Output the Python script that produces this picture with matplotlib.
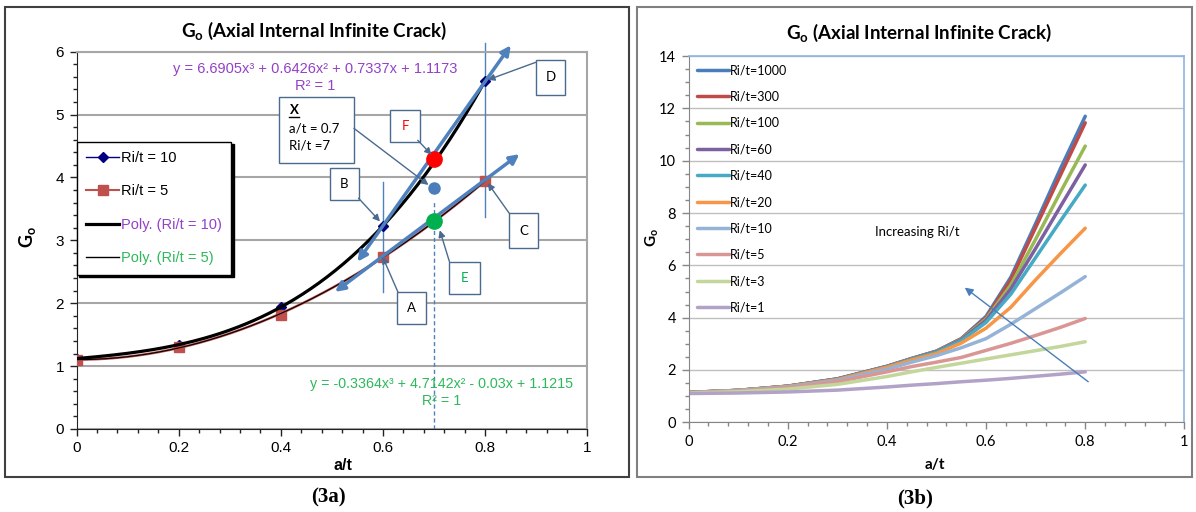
import numpy as np
import matplotlib
matplotlib.use('Agg')
import matplotlib.pyplot as plt
from matplotlib.patches import Rectangle
from matplotlib.lines import Line2D
from matplotlib.ticker import MultipleLocator

plt.rcParams['mathtext.fontset'] = 'custom'
plt.rcParams['mathtext.rm'] = 'Lato'
plt.rcParams['mathtext.bf'] = 'Lato:bold'
plt.rcParams['mathtext.it'] = 'Lato:italic'

# ---------------- data (3a) ----------------
at_a = [0.0, 0.2, 0.4, 0.6, 0.8]
go_ri10 = [1.12, 1.34, 1.94, 3.23, 5.54]
go_ri5 = [1.10, 1.30, 1.82, 2.74, 3.94]
# points read at a/t = 0.7
pt_at = 0.7
pt_F = 4.29    # Ri/t = 10
pt_X = 3.83    # Ri/t = 7
pt_E = 3.31    # Ri/t = 5
eq_ri10 = 'y = 6.6905x³ + 0.6426x² + 0.7337x + 1.1173'
eq_ri5 = 'y = -0.3364x³ + 4.7142x² - 0.03x + 1.1215'

# ---------------- data (3b) ----------------
at_b = [0, 0.1, 0.2, 0.3, 0.4, 0.45, 0.5, 0.55, 0.6, 0.65, 0.7, 0.75, 0.8]
ri_names = ['Ri/t=1000', 'Ri/t=300', 'Ri/t=100', 'Ri/t=60', 'Ri/t=40',
            'Ri/t=20', 'Ri/t=10', 'Ri/t=5', 'Ri/t=3', 'Ri/t=1']
go_1000 = [1.14, 1.22, 1.38, 1.66, 2.14, 2.44, 2.72, 3.20, 4.05, 5.55, 7.60, 9.70, 11.70]
go_300 = [1.14, 1.22, 1.38, 1.66, 2.14, 2.44, 2.72, 3.19, 4.00, 5.45, 7.45, 9.45, 11.45]
go_100 = [1.14, 1.22, 1.38, 1.65, 2.13, 2.43, 2.71, 3.17, 3.95, 5.25, 7.00, 8.80, 10.56]
go_60 = [1.14, 1.22, 1.38, 1.65, 2.13, 2.42, 2.70, 3.15, 3.90, 5.10, 6.65, 8.25, 9.84]
go_40 = [1.14, 1.22, 1.37, 1.64, 2.12, 2.41, 2.68, 3.12, 3.82, 4.90, 6.30, 7.70, 9.07]
go_20 = [1.14, 1.22, 1.37, 1.63, 2.10, 2.38, 2.63, 3.03, 3.60, 4.40, 5.45, 6.45, 7.42]
go_10 = [1.13, 1.21, 1.35, 1.60, 2.03, 2.30, 2.55, 2.85, 3.20, 3.75, 4.35, 4.95, 5.57]
go_5 = [1.12, 1.19, 1.32, 1.55, 1.93, 2.13, 2.30, 2.48, 2.75, 3.02, 3.32, 3.63, 3.97]
go_3 = [1.12, 1.17, 1.27, 1.45, 1.75, 1.93, 2.10, 2.26, 2.42, 2.58, 2.74, 2.90, 3.08]
go_1 = [1.10, 1.12, 1.16, 1.23, 1.35, 1.42, 1.48, 1.55, 1.61, 1.68, 1.76, 1.84, 1.93]
ri_series = [go_1000, go_300, go_100, go_60, go_40, go_20, go_10, go_5, go_3, go_1]
ri_colors = ['#4A7EBB', '#BE4B48', '#98B954', '#7D60A0', '#46AAC5',
             '#F79646', '#95B3D7', '#D99694', '#C3D69B', '#B3A2C7']

W, H = 1196, 512
def fx(p):
    return p / W
def fy(p):
    return 1 - p / H

fig = plt.figure(figsize=(W / 100, H / 100), dpi=100)

# panel frames
fig.add_artist(Rectangle((fx(5), fy(477)), fx(629) - fx(5), fy(7) - fy(477),
                         fill=False, ec='#404040', lw=1.5, transform=fig.transFigure))
fig.add_artist(Rectangle((fx(637), fy(477)), fx(1192) - fx(637), fy(7) - fy(477),
                         fill=False, ec='#808080', lw=1.5, transform=fig.transFigure))

# ================= (3a) =================
ax1 = fig.add_axes([fx(76.5), fy(429), 510.9 / W, 377.4 / H])
ax1.set_xlim(0, 1)
ax1.set_ylim(0, 6)
ax1.set_axisbelow(True)
ax1.yaxis.grid(True, color='#A6A6A6', lw=1.5)
ax1.set_xticks([0, 0.2, 0.4, 0.6, 0.8, 1])
ax1.set_xticklabels(['0', '0.2', '0.4', '0.6', '0.8', '1'], fontfamily='Liberation Sans', fontsize=11)
ax1.set_yticks(range(7))
ax1.set_yticklabels([str(i) for i in range(7)], fontfamily='Liberation Sans', fontsize=11)
ax1.xaxis.set_minor_locator(MultipleLocator(0.04))
ax1.yaxis.set_minor_locator(MultipleLocator(0.2))
ax1.tick_params(which='major', direction='out', length=5, width=1, color='#222222', pad=4)
ax1.tick_params(which='minor', direction='out', length=3, width=1, color='#222222')
for s in ['top', 'right']:
    ax1.spines[s].set_color('#A6A6A6')
    ax1.spines[s].set_linewidth(1.5)
for s in ['left', 'bottom']:
    ax1.spines[s].set_color('#222222')

# cubic trendlines fitted to the two series
xs = np.linspace(0, 0.8, 200)
fit10 = np.polyfit(at_a, go_ri10, 3)
fit5 = np.polyfit(at_a, go_ri5, 3)
ax1.plot(xs, np.polyval(fit5, xs), color='#C0504D', lw=1.8, zorder=3)
ax1.plot(at_a, go_ri10, 'D', color='#000080', ms=5, zorder=3)
ax1.plot(at_a, go_ri5, 's', color='#C0504D', ms=7, zorder=3)
ax1.plot(xs, np.polyval(fit10, xs), color='black', lw=2.3, zorder=4)
ax1.plot(xs, np.polyval(fit5, xs), color='black', lw=0.8, zorder=4)

h1 = Line2D([], [], color='#000080', lw=1, marker='D', ms=5)
h2 = Line2D([], [], color='#C0504D', lw=1.5, marker='s', ms=7)
h3 = Line2D([], [], color='black', lw=2.3)
h4 = Line2D([], [], color='black', lw=1)
leg = ax1.legend([h1, h2, h3, h4], ['Ri/t = 10', 'Ri/t = 5', 'Poly. (Ri/t = 10)', 'Poly. (Ri/t = 5)'],
                 loc='upper left', bbox_to_anchor=(0, (429 - 141.7) / 377.4), borderaxespad=0,
                 prop={'family': 'Liberation Sans', 'size': 10.5}, handlelength=2.3,
                 handletextpad=0.1, labelspacing=1.33, borderpad=0.64, fancybox=False,
                 edgecolor='black', framealpha=1, numpoints=1,
                 shadow={'color': 'black', 'alpha': 1})
leg.get_frame().set_linewidth(1)
leg.get_texts()[2].set_color('#9440C8')
leg.get_texts()[3].set_color('#2EB85C')

# guide lines
blue = '#4F81BD'
ax1.plot([0.6, 0.6], [2.18, 3.93], color=blue, lw=1, zorder=2)
ax1.plot([0.8, 0.8], [3.37, 6.14], color=blue, lw=1, zorder=2, clip_on=False)
ax1.plot([0.7, 0.7], [0, 3.61], color=blue, lw=1, ls=(0, (3, 2)), zorder=2)

# tangent double arrows
ax1.annotate('', xy=(0.85, 6.10), xytext=(0.55, 2.66), annotation_clip=False,
             arrowprops=dict(arrowstyle='<|-|>', color=blue, lw=2.5, mutation_scale=14,
                             shrinkA=0, shrinkB=0), zorder=5)
ax1.annotate('', xy=(0.867, 4.37), xytext=(0.506, 2.18), annotation_clip=False,
             arrowprops=dict(arrowstyle='<|-|>', color=blue, lw=2.5, mutation_scale=14,
                             shrinkA=0, shrinkB=0), zorder=5)

# points at a/t = 0.7
ax1.plot(pt_at, pt_F, 'o', color='#FF0000', ms=11, zorder=6)
ax1.plot(pt_at, pt_X, 'o', color='#4A7EBB', ms=8, zorder=6)
ax1.plot(pt_at, pt_E, 'o', color='#00B050', ms=11, zorder=6)

# callout boxes
box_ec = '#4A6A8F'
boxes = [('D', 0.899, 5.31, 0.058, 0.56, 'black'),
         ('F', 0.614, 4.57, 0.058, 0.50, 'red'),
         ('B', 0.496, 3.64, 0.057, 0.51, 'black'),
         ('C', 0.847, 2.88, 0.057, 0.55, 'black'),
         ('A', 0.627, 1.67, 0.058, 0.51, 'black'),
         ('E', 0.730, 2.15, 0.059, 0.51, '#00B050')]
for lab, x0, y0, w, h, c in boxes:
    ax1.add_patch(Rectangle((x0, y0), w, h, fc='white', ec=box_ec, lw=1, zorder=7, clip_on=False))
    ax1.text(x0 + w / 2, y0 + h / 2, lab, ha='center', va='center', color=c,
             fontfamily='Lato', fontsize=9.5, zorder=8)
ax1.add_patch(Rectangle((0.396, 4.23), 0.147, 1.05, fc='white', ec=box_ec, lw=1, zorder=7, clip_on=False))
ax1.text(0.418, 5.07, 'X', ha='left', va='center', fontfamily='Lato', fontweight='bold',
         fontsize=9.5, zorder=8)
ax1.plot([0.416, 0.436], [4.96, 4.96], color='black', lw=1, zorder=8, clip_on=False)
ax1.text(0.416, 4.77, 'a/t = 0.7', ha='left', va='center', fontfamily='Lato', fontsize=9.5, zorder=8)
ax1.text(0.416, 4.50, 'Ri/t =7', ha='left', va='center', fontfamily='Lato', fontsize=9.5, zorder=8)

arrow_kw = dict(arrowstyle='-|>', color='#4A6A8F', lw=1, mutation_scale=10, shrinkA=0, shrinkB=0)
callouts = [((0.805, 5.55), (0.899, 5.83)),
            ((0.695, 4.36), (0.668, 4.59)),
            ((0.689, 3.88), (0.543, 4.78)),
            ((0.594, 3.30), (0.552, 3.67)),
            ((0.805, 3.91), (0.847, 3.43)),
            ((0.599, 2.74), (0.629, 2.18)),
            ((0.711, 3.16), (0.730, 2.66))]
for tip, tail in callouts:
    ax1.annotate('', xy=tip, xytext=tail, arrowprops=arrow_kw, annotation_clip=False, zorder=7)

# trendline equations
ax1.text(0.468, 5.72, eq_ri10, ha='center', va='center', color='#9440C8',
         fontfamily='Liberation Sans', fontsize=10.5)
ax1.text(0.468, 5.45, 'R² = 1', ha='center', va='center', color='#9440C8',
         fontfamily='Liberation Sans', fontsize=10.5)
ax1.text(0.715, 0.715, eq_ri5, ha='center', va='center', color='#2EB85C',
         fontfamily='Liberation Sans', fontsize=10.3)
ax1.text(0.715, 0.45, 'R² = 1', ha='center', va='center', color='#2EB85C',
         fontfamily='Liberation Sans', fontsize=10.3)

fig.text(fx(313.8), fy(31), r'$\mathbf{G_o}$ (Axial Internal Infinite Crack)', ha='center', va='center',
         fontfamily='Lato', fontweight='bold', fontsize=13.5)
fig.text(fx(342.5), fy(465), 'a/t', ha='center', va='center', fontfamily='Liberation Sans',
         fontweight='bold', fontsize=11.5)
fig.text(fx(27), fy(237), r'$\mathbf{G_o}$', ha='center', va='center', rotation=90, fontsize=13)
fig.text(fx(328), fy(497), '(3a)', ha='center', va='center', fontfamily='Liberation Serif',
         fontweight='bold', fontsize=15)

# ================= (3b) =================
ax2 = fig.add_axes([fx(688.6), fy(422.3), 495.8 / W, 366.2 / H])
ax2.set_xlim(0, 1)
ax2.set_ylim(0, 14)
ax2.set_axisbelow(True)
ax2.yaxis.grid(True, color='#BFBFBF', lw=1)
ax2.set_xticks([0, 0.2, 0.4, 0.6, 0.8, 1])
ax2.set_xticklabels(['0', '0.2', '0.4', '0.6', '0.8', '1'], fontfamily='Lato', fontsize=10.5)
ax2.set_yticks(range(0, 15, 2))
ax2.set_yticklabels([str(i) for i in range(0, 15, 2)], fontfamily='Lato', fontsize=10.5)
ax2.xaxis.set_minor_locator(MultipleLocator(0.04))
ax2.yaxis.set_minor_locator(MultipleLocator(0.5))
ax2.tick_params(which='major', direction='out', length=5, width=1, color='#868686', pad=4)
ax2.tick_params(which='minor', direction='out', length=3, width=1, color='#868686')
for s in ['left', 'bottom']:
    ax2.spines[s].set_color('#868686')
for s in ['top', 'right']:
    ax2.spines[s].set_color('#8EB4E3')
    ax2.spines[s].set_linewidth(1.2)

for vals, name, c in zip(ri_series, ri_names, ri_colors):
    ax2.plot(at_b, vals, color=c, lw=2.5, label=name, solid_capstyle='round',
             solid_joinstyle='round')

ax2.legend(loc='upper left', bbox_to_anchor=(0, 1), borderaxespad=0.25, frameon=False,
           prop={'family': 'Lato', 'size': 9}, handlelength=2.6, handletextpad=0.05,
           labelspacing=1.15)

ax2.text(0.461, 7.27, 'Increasing Ri/t', ha='center', va='center', fontfamily='Lato', fontsize=9.5)
ax2.annotate('', xy=(0.557, 5.15), xytext=(0.806, 1.55),
             arrowprops=dict(arrowstyle='-|>', color='#4A7EBB', lw=1, mutation_scale=12,
                             shrinkA=0, shrinkB=0))

fig.text(fx(919.4), fy(32.7), r'$\mathbf{G_o}$ (Axial Internal Infinite Crack)', ha='center', va='center',
         fontfamily='Lato', fontweight='bold', fontsize=13.5)
fig.text(fx(934.6), fy(465), 'a/t', ha='center', va='center', fontfamily='Lato',
         fontweight='bold', fontsize=11)
fig.text(fx(652), fy(238), r'$\mathbf{G_o}$', ha='center', va='center', rotation=90, fontsize=11)
fig.text(fx(914.8), fy(498), '(3b)', ha='center', va='center', fontfamily='Liberation Serif',
         fontweight='bold', fontsize=15)

fig.savefig('out.png', dpi=100)
